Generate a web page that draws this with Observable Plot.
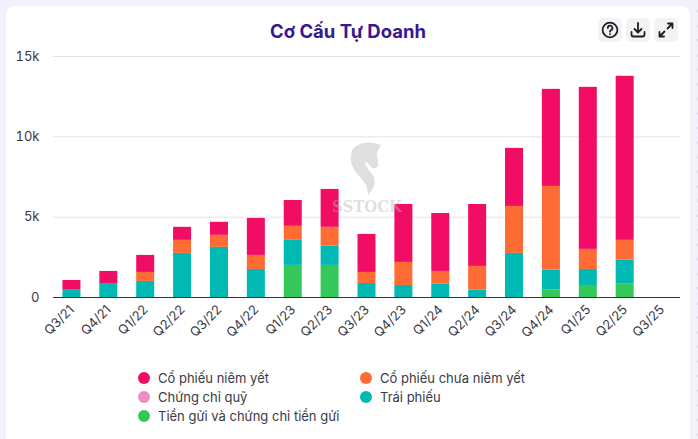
<!DOCTYPE html>
<html><head><meta charset="utf-8">
<script src="https://cdn.jsdelivr.net/npm/d3@7"></script>
<script src="https://cdn.jsdelivr.net/npm/@observablehq/plot@0.6"></script>
<style>
html,body{margin:0;padding:0;width:698px;height:439px;overflow:hidden;background:#f2f0fa;font-family:"Inter",sans-serif}
#card{position:absolute;left:6px;top:6px;width:684px;height:440px;background:#fff;border-radius:8px}
#dots{position:absolute;left:691px;top:0;width:7px;height:439px;background-image:radial-gradient(#d9d6e6 1px,transparent 1.3px);background-size:14px 14.6px;background-position:0 4px}
#title{position:absolute;left:6px;width:684px;top:19px;text-align:center;font-size:18.5px;font-weight:700;color:#37188f;line-height:25px}
.btn{position:absolute;top:18px;width:24px;height:24px;background:#f3f3f3;border-radius:5px}
.btn svg{position:absolute;left:3px;top:3px;width:18px;height:18px;fill:none;stroke:#1a1f2c;stroke-width:1.8;stroke-linecap:round;stroke-linejoin:round}
#chart{position:absolute;left:0;top:0}
#wm{position:absolute;left:330px;top:130px;width:80px;height:90px;pointer-events:none}
#legend{position:absolute;left:0;top:0;font-size:13px;color:#3a3a44}
.li{position:absolute;white-space:nowrap;line-height:18px;height:18px}
.li i{position:absolute;left:-20px;top:3px;width:12px;height:12px;border-radius:50%}
</style></head><body>
<div id="card"></div><div id="dots"></div>
<div id="title">Cơ Cấu Tự Doanh</div>
<div class="btn" style="left:598px"><svg viewBox="0 0 18 18"><circle cx="9" cy="9" r="7.4"/><path d="M6.8 7a2.3 2.3 0 1 1 3.4 2c-.8.5-1.2.9-1.2 1.7"/><path d="M9 13.2v.1"/></svg></div>
<div class="btn" style="left:626px"><svg viewBox="0 0 18 18"><path d="M9 2v9M5.5 8 9 11.5 12.5 8M2.5 11v2.5a2 2 0 0 0 2 2h9a2 2 0 0 0 2-2V11"/></svg></div>
<div class="btn" style="left:654px"><svg viewBox="0 0 18 18"><path d="M10.5 7.5 15.5 2.5M11 2.5h4.5V7M7.5 10.5 2.5 15.5M2.5 11v4.5H7"/></svg></div>
<div id="chart"></div>
<svg id="wm" viewBox="0 0 80 90"><path fill="#b8b8b8" fill-opacity=".45" d="M22 20C26 14 36 11 44 13L51 15 48 20C46 23 47 27 48 30L48 36C46 39 42 39 40 36 37 32 36 31 35 33 36 38 42 42 44 48 46 54 43 60 38 65 38 58 35 52 30 47 24 41 20 33 21 27Z"/><text x="37" y="82" text-anchor="middle" font-family="DejaVu Serif" font-weight="700" font-size="16" textLength="70" lengthAdjust="spacingAndGlyphs" fill="#b8b8b8" fill-opacity=".45">SSTOCK</text></svg>
<div id="legend"></div>
<script>
const quarters=["Q3/21","Q4/21","Q1/22","Q2/22","Q3/22","Q4/22","Q1/23","Q2/23","Q3/23","Q4/23","Q1/24","Q2/24","Q3/24","Q4/24","Q1/25","Q2/25","Q3/25"];
const tienGui=[0,0,0,0,0,0,1997,1997,0,0,0,0,0,458,749,832,0];
const traiPhieu=[458,873,1000,2745,3120,1747,1560,1206,873,749,832,458,2745,1247,998,1498,0];
const chungChiQuy=[0,0,0,0,0,0,0,0,0,0,0,0,0,0,0,0,0];
const cpChuaNiemYet=[0,0,560,812,750,873,873,1165,687,1435,790,1476,2922,5208,1248,1227,0];
const cpNiemYet=[602,749,1060,811,810,2300,1610,2358,2365,3606,3608,3856,3613,6042,10085,10208,0];
const seriesNames=["Cổ phiếu niêm yết","Cổ phiếu chưa niêm yết","Chứng chỉ quỹ","Trái phiếu","Tiền gửi và chứng chỉ tiền gửi"];
const seriesColors=["#f20d64","#ff6b35","#f08cc0","#00b9b3","#34c759"];
const stackOrder=[[tienGui,4],[traiPhieu,3],[chungChiQuy,2],[cpChuaNiemYet,1],[cpNiemYet,0]];
const rows=stackOrder.flatMap(([vals,i])=>quarters.map((q,k)=>({q,s:seriesNames[i],v:vals[k]})));
const chart=Plot.plot({
  width:698,height:439,marginLeft:53,marginRight:18,marginTop:56,marginBottom:142,
  style:{background:"transparent",fontFamily:"Inter,sans-serif",fontSize:"13px",color:"#3a3a44"},
  x:{domain:quarters,padding:0,round:false,label:null,tickSize:0,tickRotate:-45,tickPadding:10},
  y:{domain:[0,15000],ticks:[0,5000,10000,15000],label:null,tickSize:0,tickPadding:14,tickFormat:d=>d===0?"0":d/1000+"k"},
  color:{domain:seriesNames,range:seriesColors},
  marks:[
    Plot.gridY([5000,10000,15000],{stroke:"#e3e3e6",strokeOpacity:1}),
    Plot.barY(rows,{x:"q",y:"v",fill:"s",insetLeft:9.44,insetRight:9.44,order:seriesNames.slice().reverse()}),
    Plot.ruleY([0],{stroke:"#333",strokeWidth:1.2})
  ]
});
document.getElementById("chart").append(chart);
const pos=[[158,369],[380,369],[158,388],[380,388],[158,407]];
const lg=document.getElementById("legend");
seriesNames.forEach((n,i)=>{const d=document.createElement("div");d.className="li";d.style.left=pos[i][0]+"px";d.style.top=pos[i][1]+"px";d.innerHTML=`<i style="background:${seriesColors[i]}"></i>${n}`;lg.append(d)});
</script></body></html>
